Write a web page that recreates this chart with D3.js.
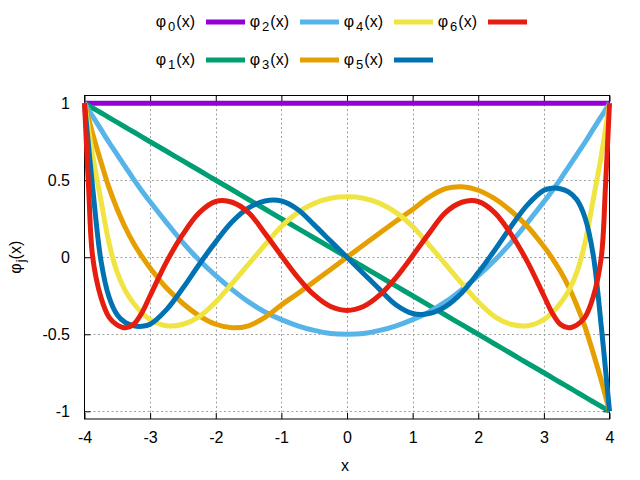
<!DOCTYPE html>
<html>
<head>
<meta charset="utf-8">
<script src="https://cdn.jsdelivr.net/npm/d3@7"></script>
<style>
  body { margin: 0; background: #fff; }
  text { font-family: "Liberation Sans", Arial, sans-serif; }
</style>
</head>
<body>
<svg id="chart" width="640" height="480"></svg>
<script>
'use strict';

// sample positions along x (denser near the ends, where curves are steep)
const xs = [-4, -3.9375, -3.875, -3.75, -3.625, -3.5, -3.375, -3.25, -3.125, -3,
  -2.75, -2.5, -2.25, -2, -1.75, -1.5, -1.25, -1, -0.75, -0.5, -0.25, 0,
  0.25, 0.5, 0.75, 1, 1.25, 1.5, 1.75, 2, 2.25, 2.5, 2.75,
  3, 3.125, 3.25, 3.375, 3.5, 3.625, 3.75, 3.875, 3.9375, 4];

const phi0 = [1, 1, 1, 1, 1, 1, 1, 1, 1, 1,
  1, 1, 1, 1, 1, 1, 1, 1, 1, 1, 1, 1,
  1, 1, 1, 1, 1, 1, 1, 1, 1, 1, 1,
  1, 1, 1, 1, 1, 1, 1, 1, 1, 1];

const phi1 = [1, 0.984, 0.969, 0.938, 0.906, 0.875, 0.844, 0.813, 0.781, 0.75,
  0.688, 0.625, 0.563, 0.5, 0.438, 0.375, 0.313, 0.25, 0.188, 0.125, 0.063, 0,
  -0.063, -0.125, -0.188, -0.25, -0.313, -0.375, -0.438, -0.5, -0.563, -0.625, -0.688,
  -0.75, -0.781, -0.813, -0.844, -0.875, -0.906, -0.938, -0.969, -0.984, -1];

const phi2 = [1, 0.955, 0.915, 0.83, 0.745, 0.665, 0.585, 0.505, 0.43, 0.36,
  0.225, 0.095, -0.02, -0.12, -0.21, -0.29, -0.355, -0.405, -0.445, -0.475, -0.495, -0.5,
  -0.495, -0.475, -0.445, -0.405, -0.355, -0.29, -0.21, -0.12, -0.02, 0.095, 0.225,
  0.36, 0.43, 0.505, 0.585, 0.665, 0.745, 0.83, 0.915, 0.955, 1];

const phi3 = [1, 0.9, 0.8, 0.62, 0.45, 0.31, 0.19, 0.09, 0.005, -0.07,
  -0.2, -0.3, -0.38, -0.435, -0.458, -0.445, -0.39, -0.31, -0.235, -0.158, -0.08, 0,
  0.08, 0.158, 0.235, 0.31, 0.39, 0.445, 0.458, 0.435, 0.38, 0.3, 0.2,
  0.07, -0.005, -0.09, -0.19, -0.31, -0.45, -0.62, -0.8, -0.9, -1];

const phi4 = [1, 0.83, 0.66, 0.37, 0.09, -0.1, -0.22, -0.3, -0.36, -0.405,
  -0.445, -0.435, -0.385, -0.29, -0.17, -0.045, 0.08, 0.2, 0.29, 0.35, 0.383, 0.392,
  0.383, 0.35, 0.29, 0.2, 0.08, -0.045, -0.17, -0.29, -0.385, -0.435, -0.445,
  -0.405, -0.36, -0.3, -0.22, -0.1, 0.09, 0.37, 0.66, 0.83, 1];

const phi5 = [1, 0.72, 0.45, -0.02, -0.26, -0.375, -0.425, -0.445, -0.448, -0.435,
  -0.34, -0.2, -0.045, 0.1, 0.23, 0.32, 0.365, 0.365, 0.31, 0.21, 0.105, 0,
  -0.105, -0.21, -0.31, -0.365, -0.365, -0.32, -0.23, -0.1, 0.045, 0.2, 0.34,
  0.435, 0.448, 0.445, 0.425, 0.375, 0.26, 0.02, -0.45, -0.72, -1];

const phi6 = [1, 0.45, 0, -0.26, -0.39, -0.44, -0.458, -0.435, -0.36, -0.25,
  -0.03, 0.15, 0.29, 0.362, 0.357, 0.29, 0.155, 0.01, -0.13, -0.245, -0.32, -0.345,
  -0.32, -0.245, -0.13, 0.01, 0.155, 0.29, 0.357, 0.362, 0.29, 0.15, -0.03,
  -0.25, -0.36, -0.435, -0.458, -0.44, -0.39, -0.26, 0, 0.45, 1];

const seriesNames = ['0', '1', '2', '3', '4', '5', '6'];
const seriesValues = [phi0, phi1, phi2, phi3, phi4, phi5, phi6];
const colors = ['#9400d3', '#009e73', '#56b4e9', '#e69f00', '#f0e442', '#0072b2', '#e51e10'];

const xTicks = [-4, -3, -2, -1, 0, 1, 2, 3, 4];
const yTicks = [-1, -0.5, 0, 0.5, 1];

const plot = { left: 84.5, right: 609.5, top: 95.5, bottom: 419 };
const lineWidth = 5;

const svg = d3.select('#chart');

const x = d3.scaleLinear().domain([-4, 4]).range([plot.left, plot.right]);
const y = d3.scaleLinear().domain([-1.05, 1.05]).range([plot.bottom, plot.top]);

// grid
const grid = svg.append('g').attr('class', 'grid')
  .attr('stroke', '#a0a0a0')
  .attr('stroke-width', 1)
  .attr('stroke-dasharray', '2,2.5');

grid.selectAll('.gx')
  .data(xTicks.slice(1, -1))
  .enter()
  .append('line')
  .attr('x1', d => Math.round(x(d)) + 0.5)
  .attr('x2', d => Math.round(x(d)) + 0.5)
  .attr('y1', plot.top)
  .attr('y2', plot.bottom);

grid.selectAll('.gy')
  .data(yTicks)
  .enter()
  .append('line')
  .attr('x1', plot.left)
  .attr('x2', plot.right)
  .attr('y1', d => Math.round(y(d)) + 0.5)
  .attr('y2', d => Math.round(y(d)) + 0.5);

// axes (ticks point inward, mirrored on top and right)
const fmt = d => String(d);

const styleAxis = g => {
  g.select('.domain').remove();
  g.selectAll('.tick line').attr('stroke', '#000');
  g.selectAll('.tick text')
    .attr('fill', '#000')
    .style('font-size', '16px')
    .style('font-family', '"Liberation Sans", Arial, sans-serif');
};

svg.append('g')
  .attr('transform', `translate(0,${plot.bottom})`)
  .call(d3.axisBottom(x).tickValues(xTicks).tickFormat(fmt).tickSize(-6).tickPadding(13))
  .call(styleAxis);

svg.append('g')
  .attr('transform', `translate(0,${plot.top})`)
  .call(d3.axisTop(x).tickValues(xTicks).tickFormat('').tickSize(-6))
  .call(styleAxis);

svg.append('g')
  .attr('transform', `translate(${plot.left},0)`)
  .call(d3.axisLeft(y).tickValues(yTicks).tickFormat(fmt).tickSize(-6).tickPadding(14.5))
  .call(styleAxis);

svg.append('g')
  .attr('transform', `translate(${plot.right},0)`)
  .call(d3.axisRight(y).tickValues(yTicks).tickFormat('').tickSize(-6))
  .call(styleAxis);

svg.append('rect')
  .attr('x', plot.left)
  .attr('y', plot.top)
  .attr('width', plot.right - plot.left)
  .attr('height', plot.bottom - plot.top)
  .attr('fill', 'none')
  .attr('stroke', '#000')
  .attr('stroke-width', 1);

// curves
const line = d3.line()
  .x((d, i) => x(xs[i]))
  .y(d => y(d))
  .curve(d3.curveCatmullRom.alpha(0.5));

svg.append('g').attr('class', 'curves')
  .selectAll('path')
  .data(seriesValues)
  .enter()
  .append('path')
  .attr('d', d => line(d))
  .attr('fill', 'none')
  .attr('stroke', (d, i) => colors[i])
  .attr('stroke-width', lineWidth)
  .attr('stroke-linejoin', 'round');

// axis labels
svg.append('text')
  .attr('x', 345)
  .attr('y', 471)
  .attr('text-anchor', 'middle')
  .style('font-size', '16px')
  .text('x');

const ylab = svg.append('text')
  .attr('transform', `translate(21,${(plot.top + plot.bottom) / 2}) rotate(-90)`)
  .attr('text-anchor', 'middle')
  .style('font-size', '16px');
ylab.append('tspan').text('φ');
ylab.append('tspan').attr('dx', 1).attr('dy', 4).style('font-size', '13px').text('j');
ylab.append('tspan').attr('dy', -4).text('(x)');

// legend: two rows, even indices on top, odd below
const legend = svg.append('g').attr('class', 'legend');

const legendItems = seriesNames.map((name, i) => ({
  name,
  color: colors[i],
  row: i % 2,
  col: Math.floor(i / 2),
}));

const item = legend.selectAll('.item')
  .data(legendItems)
  .enter()
  .append('g')
  .attr('class', 'item')
  .attr('transform', d => `translate(${206 + d.col * 94},${d.row ? 60 : 22})`);

item.append('line')
  .attr('x1', 0)
  .attr('x2', 39)
  .attr('stroke', d => d.color)
  .attr('stroke-width', lineWidth);

const label = item.append('text')
  .attr('x', -11)
  .attr('y', 5)
  .attr('text-anchor', 'end')
  .style('font-size', '16px');
label.append('tspan').text('φ');
label.append('tspan').attr('dx', 2).attr('dy', 4).style('font-size', '13px').text(d => d.name);
label.append('tspan').attr('dx', 1).attr('dy', -4).text('(x)');
</script>
</body>
</html>
